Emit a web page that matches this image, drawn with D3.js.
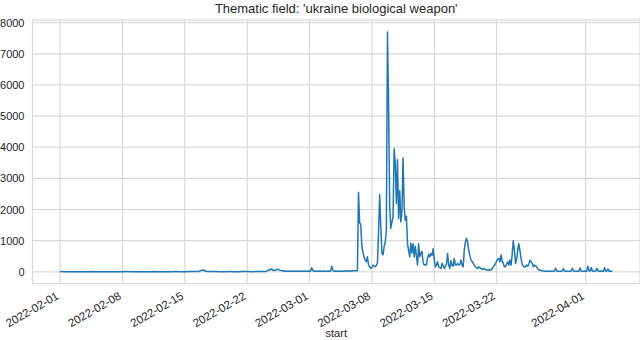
<!DOCTYPE html>
<html>
<head>
<meta charset="utf-8">
<script src="https://cdn.jsdelivr.net/npm/d3@7"></script>
<style>
  body { margin: 0; background: #fff; }
  #plot text { font-family: "Liberation Sans", Arial, sans-serif; fill: #262626; }
</style>
</head>
<body>
<div id="plot"></div>
<script>
var chartTitle = "Thematic field: 'ukraine biological weapon'";
var xLabel = "start";

// quiet period, one value every 12 hours from 2022-02-01 00:00
var quietStart = "2022-02-01T00:00";
var quietCounts = [
  5, 3,  2, 4,  3, 2,  2, 5,  3, 2,  2, 3,  4, 3,   // Feb 1-7
  3, 5,  4, 3,  2, 4,  3, 5,  2, 3,  2, 4,  5, 3,   // Feb 8-14
  4, 6,  5, 10, 55, 8, 5, 6,  4, 3,  5, 4,  3, 6,   // Feb 15-21
  5, 4,  6, 5                                       // Feb 22-23
];

// active period, one value every 3 hours from 2022-02-24 00:00
var activeStart = "2022-02-24T00:00";
var activeCounts = [
  5, 10, 30, 50, 75, 60, 95, 45,                // Feb 24
  50, 40, 65, 80, 70, 55, 45, 40,               // Feb 25
  25, 30, 20, 25, 20, 20, 25, 20,               // Feb 26
  20, 25, 20, 15, 20, 25, 20, 20,               // Feb 27
  20, 25, 20, 20, 25, 20, 20, 25,               // Feb 28
  20, 30, 130, 40, 20, 25, 20, 20,              // Mar 1
  20, 20, 25, 20, 20, 25, 20, 20,               // Mar 2
  20, 25, 20, 30, 180, 40, 20, 25,              // Mar 3
  20, 25, 20, 20, 25, 20, 20, 25,               // Mar 4
  25, 20, 30, 25, 20, 30, 25, 30,               // Mar 5
  30, 30, 35, 30, 2550, 1570, 1520, 820,        // Mar 6
  600, 480, 375, 320, 480, 215, 160, 105,       // Mar 7
  130, 215, 180, 160, 200, 290, 1250, 2480,     // Mar 8
  1455, 600, 540, 810, 960, 1300, 7700, 5400,   // Mar 9
  2100, 1400, 1600, 1750, 3950, 3500, 2200, 3600, // Mar 10
  1700, 2600, 1600, 1950, 3650, 2100, 1650, 1780, // Mar 11
  900, 680, 480, 920, 600, 900, 480, 820,       // Mar 12
  500, 215, 900, 480, 600, 650, 300, 220,       // Mar 13
  230, 215, 430, 560, 480, 590, 520, 740,       // Mar 14
  400, 160, 215, 320, 160, 130, 105, 270,       // Mar 15
  200, 105, 160, 250, 590, 215, 105, 360,       // Mar 16
  200, 180, 430, 215, 215, 270, 215, 230,       // Mar 17
  375, 215, 160, 700, 950, 1080, 950, 690,      // Mar 18
  520, 375, 330, 280, 215, 160, 130, 105,       // Mar 19
  160, 130, 105, 75, 105, 90, 75, 60,           // Mar 20
  55, 45, 75, 55, 100, 160, 200, 270,           // Mar 21
  330, 400, 430, 320, 540, 350, 270, 160,       // Mar 22
  160, 250, 320, 215, 375, 215, 560, 1000,      // Mar 23
  700, 260, 400, 700, 900, 680, 420, 250,       // Mar 24
  180, 160, 160, 215, 180, 250, 375, 320,       // Mar 25
  270, 160, 215, 190, 160, 100, 55, 55,         // Mar 26
  40, 30, 25, 20, 20, 25, 20, 20,               // Mar 27
  20, 15, 20, 20, 25, 110, 25, 20,              // Mar 28
  20, 15, 20, 25, 100, 25, 20, 20,              // Mar 29
  15, 20, 20, 25, 110, 30, 20, 20,              // Mar 30
  20, 15, 20, 120, 25, 20, 20, 25,              // Mar 31
  20, 20, 180, 30, 25, 140, 25, 20,             // Apr 1
  20, 25, 110, 30, 20, 25, 20, 25,              // Apr 2
  20, 130, 25, 20, 90, 20, 25, 20,              // Apr 3
  15                                            // Apr 4
];

var xTickLabels = ["2022-02-01", "2022-02-08", "2022-02-15", "2022-02-22",
                   "2022-03-01", "2022-03-08", "2022-03-15", "2022-03-22", "2022-04-01"];
var yTicks = [0, 1000, 2000, 3000, 4000, 5000, 6000, 7000, 8000];

var width = 640, height = 340;
var box = {left: 32.5, right: 640, top: 20, bottom: 283.7};

var parseTime = d3.timeParse("%Y-%m-%dT%H:%M"),
    parseDay  = d3.timeParse("%Y-%m-%d");

var data = quietCounts.map(function(v, i) {
      return {t: d3.timeHour.offset(parseTime(quietStart), i * 12), v: v};
    }).concat(activeCounts.map(function(v, i) {
      return {t: d3.timeHour.offset(parseTime(activeStart), i * 3), v: v};
    }));

var svg = d3.select("#plot").append("svg")
    .attr("width", width)
    .attr("height", height);

// matplotlib style 5% margins
var tExt = d3.extent(data, function(d) { return d.t; }),
    vExt = d3.extent(data, function(d) { return d.v; });
var tPad = (tExt[1] - tExt[0]) * 0.05,
    vPad = (vExt[1] - vExt[0]) * 0.05;

var x = d3.scaleTime()
    .domain([new Date(+tExt[0] - tPad), new Date(+tExt[1] + tPad)])
    .range([box.left, box.right]);
var y = d3.scaleLinear()
    .domain([vExt[0] - vPad, vExt[1] + vPad])
    .range([box.bottom, box.top]);

var xTicks = xTickLabels.map(parseDay);

// grid
svg.append("g").selectAll("line")
    .data(yTicks).enter().append("line")
    .attr("x1", box.left).attr("x2", box.right)
    .attr("y1", function(d) { return y(d); })
    .attr("y2", function(d) { return y(d); })
    .attr("stroke", "#d9d9d9").attr("stroke-width", 1.2);
svg.append("g").selectAll("line")
    .data(xTicks).enter().append("line")
    .attr("x1", function(d) { return x(d); })
    .attr("x2", function(d) { return x(d); })
    .attr("y1", box.top).attr("y2", box.bottom)
    .attr("stroke", "#d9d9d9").attr("stroke-width", 1.2);

// frame
svg.append("rect")
    .attr("x", box.left).attr("y", box.top)
    .attr("width", box.right - box.left)
    .attr("height", box.bottom - box.top)
    .attr("fill", "none")
    .attr("stroke", "#d9d9d9").attr("stroke-width", 1.2);

// y axis labels
var axisY = svg.append("g")
    .attr("transform", "translate(" + box.left + ",0)")
    .call(d3.axisLeft(y).tickValues(yTicks).tickSize(0).tickPadding(8).tickFormat(d3.format("d")));
axisY.select(".domain").remove();
axisY.selectAll("text").style("font-size", "11px");

// x axis labels, rotated
var axisX = svg.append("g")
    .attr("transform", "translate(0," + box.bottom + ")")
    .call(d3.axisBottom(x).tickValues(xTicks).tickSize(0).tickFormat(d3.timeFormat("%Y-%m-%d")));
axisX.select(".domain").remove();
axisX.selectAll("text")
    .attr("x", 0)
    .attr("y", 0)
    .attr("dy", 0)
    .attr("transform", "translate(-1,14.5) rotate(-30)")
    .style("text-anchor", "end")
    .style("font-size", "11.5px");

// the series
var valueline = d3.line()
    .x(function(d) { return x(d.t); })
    .y(function(d) { return y(d.v); });

svg.append("path")
    .datum(data)
    .attr("fill", "none")
    .attr("stroke", "#1f77b4")
    .attr("stroke-width", 1.5)
    .attr("stroke-linejoin", "round")
    .attr("d", valueline);

// title and axis label
svg.append("text")
    .attr("x", (box.left + box.right) / 2)
    .attr("y", 12.5)
    .attr("text-anchor", "middle")
    .style("font-size", "13px")
    .text(chartTitle);

svg.append("text")
    .attr("x", (box.left + box.right) / 2)
    .attr("y", 337)
    .attr("text-anchor", "middle")
    .style("font-size", "11px")
    .text(xLabel);
</script>
</body>
</html>
